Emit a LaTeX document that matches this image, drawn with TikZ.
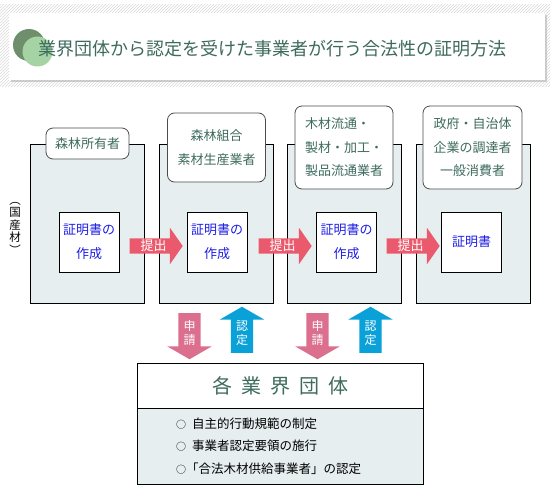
\documentclass[tikz,border=0pt]{standalone}
\usepackage{fontspec}
\setmainfont{Noto Sans CJK JP}
\usetikzlibrary{shapes.arrows,patterns,shadows}
\definecolor{headgreen}{HTML}{3E6B5E}
\definecolor{darkleaf}{HTML}{6E8E6C}
\definecolor{lightleaf}{HTML}{A6D3A4}
\definecolor{colfill}{HTML}{E6EEF0}
\definecolor{docblue}{HTML}{1E1EE6}
\definecolor{submitred}{HTML}{EA5A6C}
\definecolor{askpink}{HTML}{DC6F8E}
\definecolor{grantblue}{HTML}{0AA0D8}
\definecolor{hatchgray}{HTML}{D8D8D8}

\begin{document}
\begin{tikzpicture}[x=1pt, y=-1pt,
    column/.style={draw, fill=colfill, line width=0.8pt, minimum width=114pt, minimum height=159pt, inner sep=0pt},
    tag/.style={draw=black!70, fill=white, rounded corners=7pt, line width=0.8pt, inner sep=0pt, align=center,
        text=headgreen, font=\fontsize{13}{23.5}\selectfont},
    doc/.style={draw, fill=white, line width=0.8pt, minimum width=60pt, minimum height=60pt, inner sep=0pt,
        align=center, text=docblue, font=\fontsize{13}{24}\selectfont},
    submit/.style={single arrow, fill=submitred, text=white, minimum height=53pt, inner xsep=2pt, inner ysep=1.5pt,
        single arrow head extend=10.5pt, single arrow tip angle=110, single arrow head indent=0pt,
        font=\fontsize{13}{13}\selectfont},
    ask/.style={single arrow, shape border rotate=270, fill=askpink, text=white, minimum height=46pt,
        inner xsep=5pt, inner ysep=1pt, single arrow head extend=11pt, single arrow tip angle=120,
        align=center, font=\fontsize{12}{14}\selectfont},
    grant/.style={ask, shape border rotate=90, fill=grantblue}]
    \useasboundingbox (0,0) rectangle (553,500);

    % heading band
    \fill[pattern=north east lines, pattern color=hatchgray] (0,5) rectangle (550,87);
    \node[fill=white, minimum width=536pt, minimum height=67pt, inner sep=0pt,
        drop shadow={shadow xshift=2pt, shadow yshift=-2pt, fill=black!35}] (heading) at (277,46.5) {};
    \fill[darkleaf] (29,45) circle (16);
    \fill[lightleaf] (37.5,51.5) circle (15);
    \node[anchor=west, inner sep=0pt, text=headgreen, font=\fontsize{18}{18}\selectfont] (title) at (38,49)
        {業界団体から認定を受けた事業者が行う合法性の証明方法};

    % columns
    \node[column] (owner) at (87.5,223.5) {};
    \node[column] (producer) at (216.5,223.5) {};
    \node[column] (trader) at (344,223.5) {};
    \node[column] (buyer) at (473,223.5) {};

    \node[tag, minimum width=83pt, minimum height=31pt] (ownertag) at (87.5,143.5) {森林所有者};
    \node[tag, minimum width=98pt, minimum height=69pt] (producertag) at (216.5,147.5) {森林組合\\素材生産業者};
    \node[tag, minimum width=98pt, minimum height=83pt, align=left] (tradertag) at (344,147.5)
        {木材流通・\\製材・加工・\\製品流通業者};
    \node[tag, minimum width=99pt, minimum height=83pt] (buyertag) at (472.5,147.5)
        {政府・自治体\\企業の調達者\\一般消費者};

    \node[doc] (ownerdoc) at (89,242) {証明書の\\作成};
    \node[doc] (producerdoc) at (217,242) {証明書の\\作成};
    \node[doc] (traderdoc) at (346.5,242) {証明書の\\作成};
    \node[doc] (buyerdoc) at (471.5,242) {証明書};

    \node[submit] (submitA) at (153.5,246) {提出};
    \node[submit] (submitB) at (282.5,246) {提出};
    \node[submit] (submitC) at (410.5,246) {提出};

    \node[inner sep=0pt, align=center, font=\fontsize{11.5}{12.5}\selectfont] (domestic) at (15,228)
        {︵\\国\\産\\材\\︶};

    % industry groups
    \node[ask] (askA) at (189.5,333) {申\\請};
    \node[grant] (grantA) at (242,333) {認\\定};
    \node[ask] (askB) at (317.5,333) {申\\請};
    \node[grant] (grantB) at (370.5,333) {認\\定};

    \node[draw, fill=white, line width=0.8pt, minimum width=286pt, minimum height=45pt, inner sep=0pt,
        text=headgreen, font=\fontsize{20}{20}\selectfont] (groups) at (280,385.5)
        {各\hspace{9pt}業\hspace{9pt}界\hspace{9pt}団\hspace{9pt}体};
    \node[draw, fill=colfill, line width=0.8pt, minimum width=286pt, minimum height=76pt, inner sep=0pt] (groupbody)
        at (280,446) {};
    \node[anchor=west, inner sep=0pt, align=left, font=\fontsize{12.5}{22.5}\selectfont] (rules) at (176,446)
        {{\fontsize{10}{10}\selectfont ○}\hspace{6pt}自主的行動規範の制定\\
         {\fontsize{10}{10}\selectfont ○}\hspace{6pt}事業者認定要領の施行\\
         {\fontsize{10}{10}\selectfont ○}「合法木材供給事業者」の認定};
\end{tikzpicture}
\end{document}
